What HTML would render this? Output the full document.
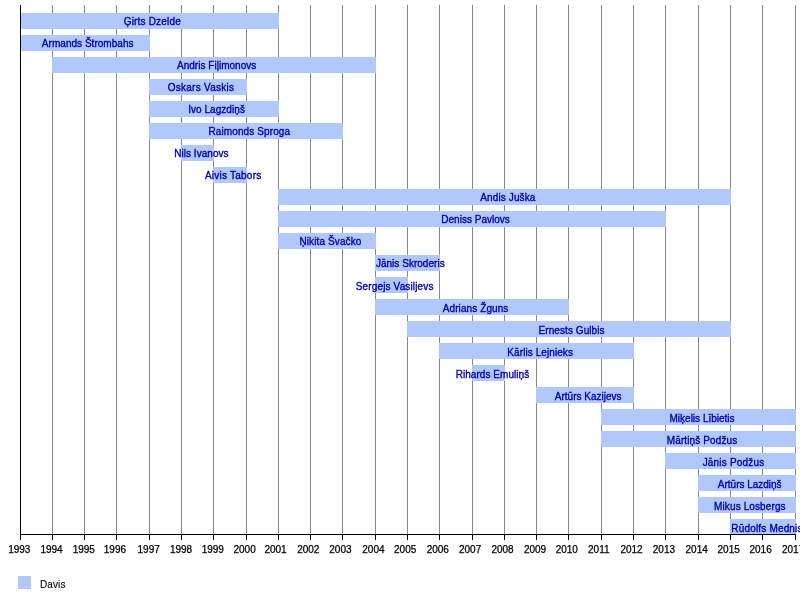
<!DOCTYPE html><html><head><meta charset="utf-8"><style>html,body{margin:0;padding:0;background:#fff;overflow:hidden;}svg{display:block;will-change:transform;}text{font-family:"Liberation Sans",sans-serif;}</style></head><body>
<svg width="800" height="609" viewBox="0 0 800 609" shape-rendering="crispEdges">
<rect x="0" y="0" width="800" height="609" fill="#fff"/>
<rect x="52" y="5" width="1" height="529" fill="#888888"/>
<rect x="84" y="5" width="1" height="529" fill="#888888"/>
<rect x="116" y="5" width="1" height="529" fill="#888888"/>
<rect x="149" y="5" width="1" height="529" fill="#888888"/>
<rect x="181" y="5" width="1" height="529" fill="#888888"/>
<rect x="213" y="5" width="1" height="529" fill="#888888"/>
<rect x="246" y="5" width="1" height="529" fill="#888888"/>
<rect x="278" y="5" width="1" height="529" fill="#888888"/>
<rect x="310" y="5" width="1" height="529" fill="#888888"/>
<rect x="342" y="5" width="1" height="529" fill="#888888"/>
<rect x="375" y="5" width="1" height="529" fill="#888888"/>
<rect x="407" y="5" width="1" height="529" fill="#888888"/>
<rect x="439" y="5" width="1" height="529" fill="#888888"/>
<rect x="472" y="5" width="1" height="529" fill="#888888"/>
<rect x="504" y="5" width="1" height="529" fill="#888888"/>
<rect x="536" y="5" width="1" height="529" fill="#888888"/>
<rect x="568" y="5" width="1" height="529" fill="#888888"/>
<rect x="601" y="5" width="1" height="529" fill="#888888"/>
<rect x="633" y="5" width="1" height="529" fill="#888888"/>
<rect x="665" y="5" width="1" height="529" fill="#888888"/>
<rect x="698" y="5" width="1" height="529" fill="#888888"/>
<rect x="730" y="5" width="1" height="529" fill="#888888"/>
<rect x="762" y="5" width="1" height="529" fill="#888888"/>
<rect x="795" y="5" width="1" height="529" fill="#888888"/>
<rect x="20" y="13" width="259" height="16" fill="#b0c8fc"/>
<rect x="20" y="35" width="130" height="16" fill="#b0c8fc"/>
<rect x="52" y="57" width="324" height="16" fill="#b0c8fc"/>
<rect x="149" y="79" width="98" height="16" fill="#b0c8fc"/>
<rect x="149" y="101" width="130" height="16" fill="#b0c8fc"/>
<rect x="149" y="123" width="194" height="16" fill="#b0c8fc"/>
<rect x="181" y="145" width="33" height="16" fill="#b0c8fc"/>
<rect x="213" y="167" width="34" height="16" fill="#b0c8fc"/>
<rect x="278" y="189" width="453" height="16" fill="#b0c8fc"/>
<rect x="278" y="211" width="388" height="16" fill="#b0c8fc"/>
<rect x="278" y="233" width="98" height="16" fill="#b0c8fc"/>
<rect x="375" y="255" width="65" height="16" fill="#b0c8fc"/>
<rect x="375" y="277" width="33" height="16" fill="#b0c8fc"/>
<rect x="375" y="299" width="194" height="16" fill="#b0c8fc"/>
<rect x="407" y="321" width="324" height="16" fill="#b0c8fc"/>
<rect x="439" y="343" width="195" height="16" fill="#b0c8fc"/>
<rect x="472" y="365" width="33" height="16" fill="#b0c8fc"/>
<rect x="536" y="387" width="98" height="16" fill="#b0c8fc"/>
<rect x="601" y="409" width="195" height="16" fill="#b0c8fc"/>
<rect x="601" y="431" width="195" height="16" fill="#b0c8fc"/>
<rect x="665" y="453" width="131" height="16" fill="#b0c8fc"/>
<rect x="698" y="475" width="98" height="16" fill="#b0c8fc"/>
<rect x="698" y="497" width="98" height="16" fill="#b0c8fc"/>
<rect x="730" y="519" width="66" height="16" fill="#b0c8fc"/>
<rect x="20" y="5" width="1" height="535" fill="#000"/>
<rect x="20" y="534" width="776" height="1" fill="#000"/>
<rect x="52" y="534" width="1" height="6" fill="#000"/>
<rect x="84" y="534" width="1" height="6" fill="#000"/>
<rect x="116" y="534" width="1" height="6" fill="#000"/>
<rect x="149" y="534" width="1" height="6" fill="#000"/>
<rect x="181" y="534" width="1" height="6" fill="#000"/>
<rect x="213" y="534" width="1" height="6" fill="#000"/>
<rect x="246" y="534" width="1" height="6" fill="#000"/>
<rect x="278" y="534" width="1" height="6" fill="#000"/>
<rect x="310" y="534" width="1" height="6" fill="#000"/>
<rect x="342" y="534" width="1" height="6" fill="#000"/>
<rect x="375" y="534" width="1" height="6" fill="#000"/>
<rect x="407" y="534" width="1" height="6" fill="#000"/>
<rect x="439" y="534" width="1" height="6" fill="#000"/>
<rect x="472" y="534" width="1" height="6" fill="#000"/>
<rect x="504" y="534" width="1" height="6" fill="#000"/>
<rect x="536" y="534" width="1" height="6" fill="#000"/>
<rect x="568" y="534" width="1" height="6" fill="#000"/>
<rect x="601" y="534" width="1" height="6" fill="#000"/>
<rect x="633" y="534" width="1" height="6" fill="#000"/>
<rect x="665" y="534" width="1" height="6" fill="#000"/>
<rect x="698" y="534" width="1" height="6" fill="#000"/>
<rect x="730" y="534" width="1" height="6" fill="#000"/>
<rect x="762" y="534" width="1" height="6" fill="#000"/>
<rect x="795" y="534" width="1" height="6" fill="#000"/>
<g font-size="10" fill="#000" stroke="#000" stroke-width="0.25" text-anchor="middle">
<text x="19.3" y="553">1993</text>
<text x="51.5" y="553">1994</text>
<text x="83.8" y="553">1995</text>
<text x="114.9" y="553">1996</text>
<text x="148.7" y="553">1997</text>
<text x="181.0" y="553">1998</text>
<text x="212.8" y="553">1999</text>
<text x="244.6" y="553">2000</text>
<text x="275.5" y="553">2001</text>
<text x="308.3" y="553">2002</text>
<text x="340.4" y="553">2003</text>
<text x="373.4" y="553">2004</text>
<text x="405.2" y="553">2005</text>
<text x="437.8" y="553">2006</text>
<text x="470.1" y="553">2007</text>
<text x="502.5" y="553">2008</text>
<text x="535.0" y="553">2009</text>
<text x="566.8" y="553">2010</text>
<text x="598.8" y="553">2011</text>
<text x="631.5" y="553">2012</text>
<text x="663.9" y="553">2013</text>
<text x="696.7" y="553">2014</text>
<text x="728.7" y="553">2015</text>
<text x="760.6" y="553">2016</text>
<text x="793.1" y="553">2017</text>
</g>
<g font-size="10" fill="#0000b4" stroke="#0000b4" stroke-width="0.35">
<text x="123.69" y="25" textLength="57.02" lengthAdjust="spacing">Ģirts Dzelde</text>
<text x="41.87" y="47" textLength="91.63" lengthAdjust="spacing">Armands Štrombahs</text>
<text x="177.02" y="69" textLength="79.24" lengthAdjust="spacing">Andris Fiļimonovs</text>
<text x="167.69" y="91" textLength="66.37" lengthAdjust="spacing">Oskars Vaskis</text>
<text x="188.16" y="113" textLength="56.72" lengthAdjust="spacing">Ivo Lagzdiņš</text>
<text x="208.42" y="135" textLength="81.61" lengthAdjust="spacing">Raimonds Sproga</text>
<text x="174.21" y="157" textLength="54.35" lengthAdjust="spacing">Nils Ivanovs</text>
<text x="204.93" y="179" textLength="56.29" lengthAdjust="spacing">Aivis Tabors</text>
<text x="480.32" y="201" textLength="55.04" lengthAdjust="spacing">Andis Juška</text>
<text x="441.24" y="223" textLength="68.58" lengthAdjust="spacing">Deniss Pavlovs</text>
<text x="299.41" y="245" textLength="62.00" lengthAdjust="spacing">Ņikita Švačko</text>
<text x="375.88" y="267" textLength="68.80" lengthAdjust="spacing">Jānis Skroderis</text>
<text x="355.75" y="289.75" textLength="77.70" lengthAdjust="spacing">Sergejs Vasiljevs</text>
<text x="442.74" y="311.75" textLength="65.60" lengthAdjust="spacing">Adrians Žguns</text>
<text x="538.60" y="333.75" textLength="65.91" lengthAdjust="spacing">Ernests Gulbis</text>
<text x="507.36" y="355.75" textLength="65.58" lengthAdjust="spacing">Kārlis Lejnieks</text>
<text x="455.67" y="377.75" textLength="73.47" lengthAdjust="spacing">Rihards Emuliņš</text>
<text x="554.86" y="399.75" textLength="66.59" lengthAdjust="spacing">Artūrs Kazijevs</text>
<text x="669.48" y="421.75" textLength="65.13" lengthAdjust="spacing">Miķelis Lībietis</text>
<text x="666.74" y="443.75" textLength="70.50" lengthAdjust="spacing">Mārtiņš Podžus</text>
<text x="702.66" y="465.75" textLength="61.48" lengthAdjust="spacing">Jānis Podžus</text>
<text x="717.86" y="487.75" textLength="63.70" lengthAdjust="spacing">Artūrs Lazdiņš</text>
<text x="714.02" y="509.75" textLength="71.59" lengthAdjust="spacing">Mikus Losbergs</text>
<text x="731.36" y="531.75" textLength="71.12" lengthAdjust="spacing">Rūdolfs Mednis</text>
</g>
<rect x="18" y="576" width="13" height="13" fill="#b0c8fc"/>
<text x="40" y="588" font-size="10" fill="#000" stroke="#000" stroke-width="0.1" letter-spacing="0.1">Davis</text>
</svg></body></html>
